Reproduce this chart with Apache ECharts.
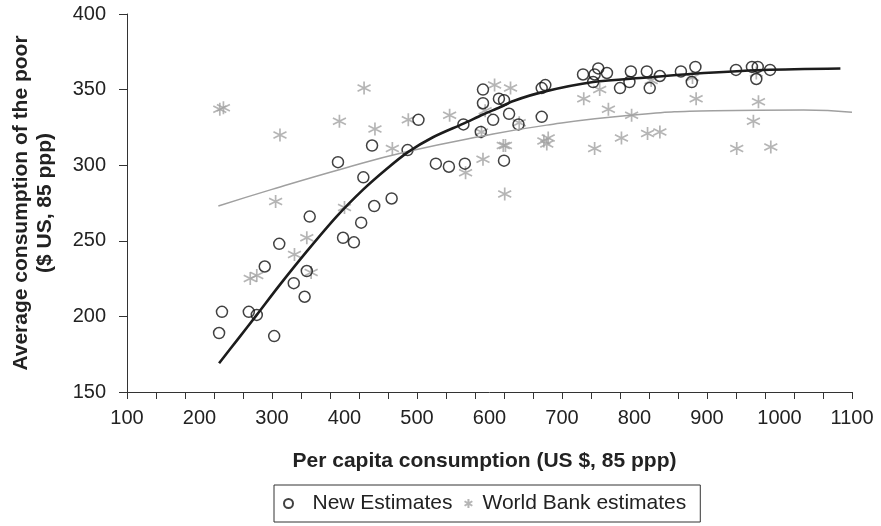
<!DOCTYPE html>
<html>
<head>
<meta charset="utf-8">
<script src="https://cdn.jsdelivr.net/npm/echarts@6/dist/echarts.min.js"></script>
<style>
  html, body { margin: 0; padding: 0; background: #fff; }
  #chart { width: 881px; height: 526px; }
</style>
</head>
<body>
<div id="chart"></div>
<script>
// New Estimates (circles): [per capita consumption, consumption of the poor]
const newEstimates = [
  [227, 189], [231, 203], [268, 203], [279, 201], [303, 187], [290, 233],
  [310, 248], [330, 222], [345, 213], [348, 230], [352, 266], [398, 252],
  [413, 249], [423, 262], [441, 273], [465, 278], [391, 302], [426, 292],
  [438, 313], [487, 310], [502, 330], [526, 301], [544, 299], [566, 301],
  [564, 327], [591, 350], [591, 341], [588, 322], [605, 330], [613, 344],
  [620, 343], [627, 334], [640, 327], [620, 303], [672, 332], [672, 351],
  [677, 353], [729, 360], [745, 360], [750, 364], [762, 361], [743, 355],
  [780, 351], [795, 362], [793, 355], [817, 362], [821, 351], [835, 359],
  [864, 362], [884, 365], [879, 355], [940, 363], [962, 365], [970, 365],
  [968, 357], [987, 363]
];

// World Bank estimates (asterisks)
const worldBank = [
  [228, 337], [233, 338], [311, 320], [305, 276], [270, 225], [279, 227],
  [331, 241], [348, 252], [354, 229], [400, 272], [393, 329], [427, 351],
  [442, 324], [466, 311], [488, 330], [545, 333], [567, 295], [591, 304],
  [594, 336], [589, 322], [607, 353], [629, 351], [619, 313], [622, 313],
  [621, 281], [641, 328], [675, 316], [681, 318], [679, 314], [752, 350],
  [730, 344], [764, 337], [745, 311], [782, 318], [796, 333], [818, 321],
  [835, 322], [823, 356], [880, 358], [885, 344], [941, 311], [964, 329],
  [971, 342], [988, 312], [968, 361]
];

// trend curves
const newTrend = [
  [227, 169], [253, 185], [279, 201], [311, 221], [348, 243], [389, 266],
  [426, 284], [458, 297.5], [487, 308.5], [522, 318.5], [564, 327.5], [591, 333.5],
  [615, 338.5], [633, 342.5], [674, 348.5], [743, 355], [817, 358], [881, 360.5],
  [978, 363], [1084, 364]
];
const wbTrend = [
  [226, 273], [300, 284], [400, 298], [487, 309], [587, 319], [679, 326.5],
  [794, 333], [909, 336], [1033, 336.5], [1100, 335]
];

const xTicks = { min: 100, max: 1100, interval: 100 };
const yTicks = { min: 150, max: 400, interval: 50 };

const FONT = '"Liberation Sans", Arial, Helvetica, sans-serif';
const STAR = 'path://M6,0 L6,12 M0.8,3 L11.2,9 M0.8,9 L11.2,3';

const chart = echarts.init(document.getElementById('chart'), null, { renderer: 'canvas' });

chart.setOption({
  animation: false,
  textStyle: { fontFamily: FONT, color: '#222' },
  grid: { left: 127, right: 29, top: 14, bottom: 134, containLabel: false },
  legend: {
    data: [
      { name: 'New Estimates', textStyle: { padding: [0, 0, 0, 14] } },
      { name: 'World Bank estimates', textStyle: { padding: [0, 0, 0, 4] } }
    ],
    left: 274,
    top: 485,
    padding: [8, 14, 8, 9],
    borderColor: '#333',
    borderWidth: 1,
    borderRadius: 0,
    itemGap: 11,
    itemWidth: 10,
    itemHeight: 9,
    textStyle: { fontFamily: FONT, fontSize: 21, color: '#222' }
  },
  xAxis: [
    {
      type: 'value',
      min: xTicks.min,
      max: xTicks.max,
      interval: xTicks.interval,
      position: 'bottom',
      name: 'Per capita consumption (US $, 85 ppp)',
      nameLocation: 'middle',
      nameGap: 59,
      nameTextStyle: { fontFamily: FONT, fontSize: 21, fontWeight: 'bold', color: '#222', padding: [0, 10, 0, 0] },
      axisLine: { onZero: false, lineStyle: { color: '#333', width: 1 } },
      axisTick: { show: false },
      axisLabel: { fontFamily: FONT, fontSize: 20, color: '#222', margin: 16, formatter: v => String(v) },
      splitLine: { show: false }
    },
    {
      // tick marks every 40 units along the same scale
      type: 'value',
      min: 0,
      max: 1000,
      interval: 40,
      position: 'bottom',
      axisLine: { show: false },
      axisTick: { show: true, length: 7, lineStyle: { color: '#333', width: 1 } },
      axisLabel: { show: false },
      splitLine: { show: false }
    }
  ],
  yAxis: {
    type: 'value',
    min: yTicks.min,
    max: yTicks.max,
    interval: yTicks.interval,
    name: 'Average consumption of the poor\n($ US, 85 ppp)',
    nameLocation: 'middle',
    nameGap: 70,
    nameTextStyle: { fontFamily: FONT, fontSize: 21, fontWeight: 'bold', color: '#222', lineHeight: 24 },
    axisLine: { show: true, lineStyle: { color: '#333', width: 1 } },
    axisTick: { show: true, length: 8, lineStyle: { color: '#333' } },
    axisLabel: { fontFamily: FONT, fontSize: 20, color: '#222', margin: 21 },
    splitLine: { show: false }
  },
  series: [
    {
      name: 'World Bank estimates',
      type: 'scatter',
      data: worldBank,
      symbol: STAR,
      symbolSize: 13,
      itemStyle: { color: 'rgba(0,0,0,0)', borderColor: '#a3a3a3', borderWidth: 1.7 }
    },
    {
      name: 'New Estimates',
      type: 'scatter',
      data: newEstimates,
      symbol: 'circle',
      symbolSize: 11,
      itemStyle: { color: 'rgba(255,255,255,0)', borderColor: '#111', borderWidth: 1.5 }
    },
    {
      name: 'wb-trend',
      type: 'line',
      data: wbTrend,
      smooth: true,
      showSymbol: false,
      lineStyle: { color: '#a0a0a0', width: 1.5 }
    },
    {
      name: 'new-trend',
      type: 'line',
      data: newTrend,
      smooth: 0.3,
      showSymbol: false,
      lineStyle: { color: '#1c1c1c', width: 2.6 }
    }
  ]
});
</script>
</body>
</html>
